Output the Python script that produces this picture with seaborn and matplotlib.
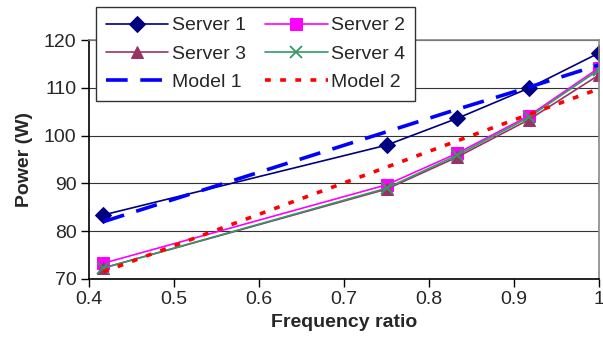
import numpy as np
import pandas as pd
import matplotlib
matplotlib.use('Agg')
import matplotlib.pyplot as plt
import seaborn as sns

# frequency ratios (1.0, 1.8, 2.0, 2.2, 2.4 GHz over 2.4 GHz)
freq_ratio = [0.417, 0.75, 0.833, 0.917, 1.0]

server_1 = [83.4, 98.0, 103.6, 109.9, 117.3]
server_2 = [73.3, 89.7, 96.3, 104.1, 114.2]
server_3 = [72.3, 88.8, 95.5, 103.3, 112.7]
server_4 = [72.3, 89.0, 95.9, 103.8, 113.8]
model_1 = [82.0, 100.8, 105.5, 110.1, 114.8]
model_2 = [71.5, 93.4, 98.9, 104.4, 109.8]

series_names = ['Server 1', 'Server 2', 'Server 3', 'Server 4', 'Model 1', 'Model 2']
series_values = [server_1, server_2, server_3, server_4, model_1, model_2]

df = pd.DataFrame({'Frequency ratio': freq_ratio})
for name, vals in zip(series_names, series_values):
    df[name] = vals
df = df.melt(id_vars='Frequency ratio', var_name='Series', value_name='Power (W)')

styles = {
    'Server 1': dict(color='#000080', marker='D', markersize=8, lw=1.2, ls='-'),
    'Server 2': dict(color='#FF00FF', marker='s', markersize=8, lw=1.2, ls='-'),
    'Server 3': dict(color='#993366', marker='^', markersize=9, lw=1.2, ls='-'),
    'Server 4': dict(color='#339966', marker='x', markersize=9, lw=1.2, ls='-', mew=1.3),
    'Model 1': dict(color='#0000FF', marker=None, lw=2.6, ls=(0, (6, 3.5))),
    'Model 2': dict(color='#FF0000', marker=None, lw=2.6, ls=(0, (1.6, 2.6))),
}

sns.set_style('white')
plt.rcParams['font.family'] = ['Liberation Sans', 'DejaVu Sans']

fig = plt.figure(figsize=(6.03, 3.39), dpi=100)
ax = fig.add_axes([0.1476, 0.177, 0.846, 0.705])

for name in series_names:
    st = dict(styles[name])
    ls = st.pop('ls')
    sub = df[df['Series'] == name]
    sns.lineplot(data=sub, x='Frequency ratio', y='Power (W)', ax=ax,
                 label=name, linestyle=ls, markeredgecolor=st['color'], **st)

ax.set_xlim(0.4, 1.0)
ax.set_ylim(70, 120)
ax.set_xticks([0.4, 0.5, 0.6, 0.7, 0.8, 0.9, 1.0])
ax.set_xticklabels(['0.4', '0.5', '0.6', '0.7', '0.8', '0.9', '1'])
ax.set_yticks(range(70, 121, 10))
ax.yaxis.grid(True, color='#333333', lw=0.8)
ax.xaxis.grid(False)
ax.set_axisbelow(True)

ax.tick_params(axis='both', direction='out', length=6, width=1, labelsize=14,
               color='black', pad=3, left=True, bottom=True)
for side in ['left', 'bottom']:
    ax.spines[side].set_color('black')
    ax.spines[side].set_linewidth(1.2)
for side in ['top', 'right']:
    ax.spines[side].set_color('#888888')
    ax.spines[side].set_linewidth(1.2)

ax.set_xlabel('Frequency ratio', fontsize=14, fontweight='bold', labelpad=4)
ax.set_ylabel('Power (W)', fontsize=14, fontweight='bold', labelpad=8)

# legend filled row by row: reorder handles for matplotlib's column-major layout
handles, labels = ax.get_legend_handles_labels()
order = [0, 2, 4, 1, 3, 5]
leg = ax.legend([handles[i] for i in order], [labels[i] for i in order],
                loc='upper left', bbox_to_anchor=(96 / 603, 1 - 7 / 339),
                bbox_transform=fig.transFigure, ncol=2, fontsize=14,
                frameon=True, fancybox=False, framealpha=1, edgecolor='#333333',
                handlelength=3.2, handletextpad=0.2, columnspacing=1.0,
                labelspacing=0.55, borderpad=0.5, borderaxespad=0)
leg.get_frame().set_linewidth(1.0)

fig.savefig('out.png', dpi=100)
